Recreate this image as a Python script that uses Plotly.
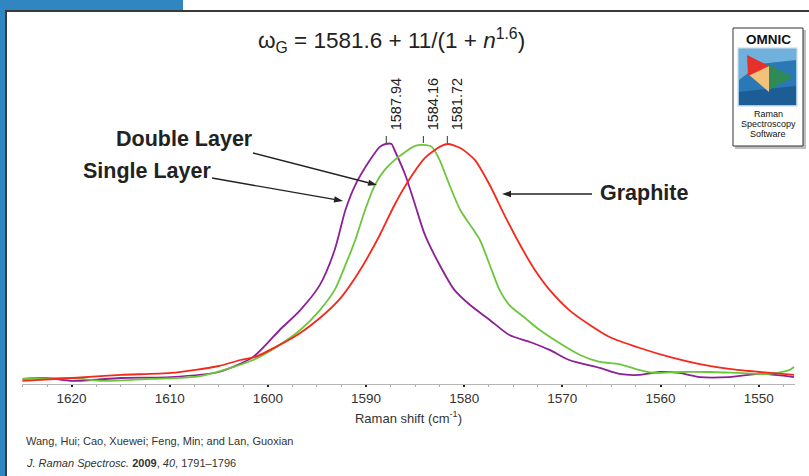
import plotly.graph_objects as go

# ---- data ----
single_wn = [1625, 1622.5, 1619.9, 1615.0, 1609.9, 1605.0, 1601.5, 1598.8, 1596.7, 1594.7,
             1593.2, 1592.1, 1591.1, 1589.6, 1588.6, 1588.0, 1587.4, 1587.1, 1586.0, 1585.0,
             1584.0, 1582.5, 1581.0, 1579.4, 1577.4, 1575.4, 1573.3, 1571.3, 1569.3, 1566.2,
             1564.2, 1562.1, 1560.1, 1558.1, 1556.0, 1553.0, 1549.9, 1546.4]
single_int = [2.1, 2.5, 1.3, 2.5, 2.9, 5.0, 11.3, 22.5, 30.8, 41.3,
              55.8, 72.5, 82.9, 93.3, 98.8, 100.0, 100.0, 97.5, 87.1, 74.6,
              62.1, 49.6, 39.2, 32.9, 26.7, 20.4, 17.5, 14.2, 10.0, 6.7,
              4.2, 3.8, 5.0, 4.6, 2.9, 2.9, 4.2, 2.9]

double_wn = [1625, 1619.9, 1617.1, 1612.0, 1606.9, 1601.5, 1598.8, 1596.7, 1594.7, 1593.2,
             1592.1, 1591.1, 1590.1, 1589.1, 1588.1, 1587.1, 1586.0, 1585.0, 1584.2, 1583.3,
             1582.5, 1581.5, 1580.4, 1579.4, 1578.4, 1577.4, 1576.4, 1575.4, 1573.8, 1572.3,
             1570.3, 1568.2, 1566.2, 1564.2, 1562.1, 1560.6, 1558.1, 1555.0, 1552.0, 1548.9,
             1546.9, 1546.4]
double_int = [2.1, 2.5, 1.3, 2.1, 3.3, 10.0, 16.3, 22.5, 30.8, 39.2,
              49.6, 60.0, 72.5, 82.9, 89.2, 93.3, 96.7, 99.2, 99.6, 98.8,
              93.3, 82.9, 72.5, 66.3, 60.0, 49.6, 39.2, 32.9, 27.5, 22.5,
              17.1, 12.1, 9.2, 8.3, 5.8, 4.6, 5.0, 5.0, 4.6, 4.2,
              5.8, 7.1]

graphite_wn = [1625, 1619.9, 1615.0, 1609.9, 1605.0, 1602.8, 1601.3, 1598.8, 1596.7, 1594.7,
               1592.6, 1590.6, 1588.6, 1587.1, 1585.5, 1584.0, 1582.5, 1581.7, 1580.4, 1578.9,
               1577.4, 1575.9, 1574.3, 1572.8, 1571.3, 1569.3, 1567.2, 1565.2, 1562.1, 1559.1,
               1556.0, 1553.0, 1549.9, 1546.4]
graphite_int = [1.3, 2.5, 3.8, 4.6, 7.5, 10.0, 11.3, 16.3, 21.3, 27.5,
                35.8, 47.5, 62.1, 74.6, 85.8, 94.2, 98.8, 100.0, 98.3, 93.3,
                82.9, 70.4, 57.9, 47.5, 39.2, 30.8, 24.6, 19.6, 15.0, 11.3,
                8.3, 6.3, 5.0, 3.8]

peak_labels = ["1587.94", "1584.16", "1581.72"]
peak_pos = [1587.94, 1584.16, 1581.72]

tick_vals = [1620, 1610, 1600, 1590, 1580, 1570, 1560, 1550]
tick_text = ["1620", "1610", "1600", "1590", "1580", "1570", "1560", "1550"]

W, H = 809, 476
L, R, T, B = 22, 14, 60, 92
PW, PH = W - L - R, H - T - B
YMAX = 135.0

def pxx(x):
    return (x - L) / PW

def pxy(y):
    return (H - B - y) / PH

FONT = "Liberation Sans, Arial, Helvetica, sans-serif"
PURPLE = "#8b2196"
GREEN = "#6cc63c"
RED = "#f5281c"
BLUE = "#2f86c0"

fig = go.Figure()
for wn, it, col, name in [(single_wn, single_int, PURPLE, "Single Layer"),
                          (double_wn, double_int, GREEN, "Double Layer"),
                          (graphite_wn, graphite_int, RED, "Graphite")]:
    fig.add_trace(go.Scatter(x=wn, y=it, mode="lines", name=name,
                             line=dict(color=col, width=1.8, shape="spline", smoothing=0.7),
                             hoverinfo="x+y+name"))

fig.update_layout(
    width=W, height=H,
    margin=dict(l=L, r=R, t=T, b=B),
    paper_bgcolor="white", plot_bgcolor="white",
    showlegend=False,
    font=dict(family=FONT, color="#222"),
    xaxis=dict(range=[1625.05, 1546.3], tickvals=tick_vals, ticktext=tick_text,
               showgrid=False, zeroline=False, showline=True, linecolor="#b5b5b5", linewidth=1,
               ticks="outside", ticklen=2, tickcolor="#222", tickwidth=1.5,
               minor=dict(dtick=2.5, ticks="outside", ticklen=2, tickcolor="#aaa", tickwidth=1),
               tickfont=dict(size=13.5, color="#333"),
               title=dict(text="Raman shift (cm<sup>-1</sup>)", font=dict(size=13, color="#333"), standoff=8)),
    yaxis=dict(range=[0, YMAX], visible=False, showgrid=False, zeroline=False),
)

shapes = []
# blue frame decoration
shapes.append(dict(type="path", xref="paper", yref="paper",
                   path=f"M {pxx(0)},{pxy(476)} L {pxx(5)},{pxy(476)} L {pxx(5)},{pxy(10)} L {pxx(183)},{pxy(10)} L {pxx(183)},{pxy(0)} L {pxx(0)},{pxy(0)} Z",
                   fillcolor=BLUE, line=dict(width=0), layer="above"))
shapes.append(dict(type="path", xref="paper", yref="paper",
                   path=f"M {pxx(6)},{pxy(476)} L {pxx(6)},{pxy(11)} L {pxx(809)},{pxy(11)}",
                   line=dict(color="#3a3a3a", width=2), layer="above"))

# peak tick marks
for p in peak_pos:
    shapes.append(dict(type="line", xref="x", yref="paper", x0=p, x1=p, y0=pxy(143), y1=pxy(136),
                       line=dict(color="#333", width=1)))

def path(pts):
    return "M " + " L ".join(f"{pxx(x)},{pxy(y)}" for x, y in pts) + " Z"

# arrows (line + filled head)
for (tx, ty), (hx, hy) in [((253, 153), (377, 185)), ((212, 178), (343, 201)), ((592, 194), (502, 194))]:
    dx, dy = hx - tx, hy - ty
    n = (dx * dx + dy * dy) ** 0.5
    ux, uy = dx / n, dy / n
    hl, hw = 9.0, 3.2
    bx, by = hx - ux * hl, hy - uy * hl
    shapes.append(dict(type="line", xref="paper", yref="paper", x0=pxx(tx), y0=pxy(ty), x1=pxx(bx), y1=pxy(by),
                       line=dict(color="#222", width=1.3), layer="above"))
    shapes.append(dict(type="path", xref="paper", yref="paper",
                       path=path([(hx, hy), (bx - uy * hw, by + ux * hw), (bx + uy * hw, by - ux * hw)]),
                       fillcolor="#222", line=dict(width=0), layer="above"))

# OMNIC logo
shapes.append(dict(type="rect", xref="paper", yref="paper", x0=pxx(735), x1=pxx(806), y0=pxy(149), y1=pxy(30),
                   fillcolor="#bfbfbf", line=dict(width=0), layer="above"))
shapes.append(dict(type="rect", xref="paper", yref="paper", x0=pxx(733), x1=pxx(803), y0=pxy(146), y1=pxy(28),
                   fillcolor="white", line=dict(color="#333", width=1), layer="above"))
shapes.append(dict(type="rect", xref="paper", yref="paper", x0=pxx(738), x1=pxx(797), y0=pxy(106), y1=pxy(48),
                   fillcolor="#2b78b6", line=dict(color="#cfe3f2", width=1.5), layer="above"))
shapes.append(dict(type="path", xref="paper", yref="paper", path=path([(739, 49), (796, 49), (796, 60), (760, 64), (739, 80)]),
                   fillcolor="#6fb0dd", line=dict(width=0), layer="above"))
shapes.append(dict(type="path", xref="paper", yref="paper", path=path([(739, 92), (796, 86), (796, 105), (739, 105)]),
                   fillcolor="#1d5d95", line=dict(width=0), layer="above"))
shapes.append(dict(type="path", xref="paper", yref="paper", path=path([(768, 64), (793, 77), (769, 90)]),
                   fillcolor="#2e8b57", line=dict(width=0), layer="above"))
shapes.append(dict(type="path", xref="paper", yref="paper", path=path([(748, 74), (769, 66), (769, 92)]),
                   fillcolor="#f2c27a", line=dict(width=0), layer="above"))
shapes.append(dict(type="path", xref="paper", yref="paper", path=path([(747, 55), (769, 66), (748, 76)]),
                   fillcolor="#e8302a", line=dict(width=0), layer="above"))
fig.update_layout(shapes=shapes)

ann = []
# title
ann.append(dict(xref="paper", yref="paper", x=pxx(391), y=pxy(41), xanchor="center", yanchor="middle",
                text="ω<sub>G</sub> = 1581.6 + 11/(1 + <i>n</i><sup>1.6</sup>)", showarrow=False,
                font=dict(size=22.5, color="#222")))
# peak labels
for p, lab in zip(peak_pos, peak_labels):
    ann.append(dict(xref="x", yref="paper", x=p, y=pxy(132), xanchor="center", yanchor="bottom",
                    text=lab, textangle=-90, showarrow=False, xshift=10,
                    font=dict(size=14.5, color="#222")))
# arrow labels
ann.append(dict(xref="paper", yref="paper", x=pxx(184), y=pxy(139), text="<b>Double Layer</b>", showarrow=False,
                xanchor="center", yanchor="middle", font=dict(size=21.5, color="#222")))
ann.append(dict(xref="paper", yref="paper", x=pxx(146.5), y=pxy(171), text="<b>Single Layer</b>", showarrow=False,
                xanchor="center", yanchor="middle", font=dict(size=21.5, color="#222")))
ann.append(dict(xref="paper", yref="paper", x=pxx(644), y=pxy(193), text="<b>Graphite</b>", showarrow=False,
                xanchor="center", yanchor="middle", font=dict(size=21.5, color="#222")))
# logo texts
ann.append(dict(xref="paper", yref="paper", x=pxx(768), y=pxy(40), text="<b>OMNIC</b>", showarrow=False,
                xanchor="center", yanchor="middle", font=dict(size=13.5, color="#111")))
for yy, t in [(114, "Raman"), (124, "Spectroscopy"), (134, "Software")]:
    ann.append(dict(xref="paper", yref="paper", x=pxx(768), y=pxy(yy), text=t, showarrow=False,
                    xanchor="center", yanchor="middle", font=dict(size=9, color="#111")))
# citation
ann.append(dict(xref="paper", yref="paper", x=pxx(24), y=pxy(441), xanchor="left", yanchor="middle",
                text="Wang, Hui; Cao, Xuewei; Feng, Min; and Lan, Guoxian", showarrow=False,
                font=dict(size=11, color="#333")))
ann.append(dict(xref="paper", yref="paper", x=pxx(24), y=pxy(463), xanchor="left", yanchor="middle",
                text="<i>J. Raman Spectrosc.</i> <b>2009</b>, <i>40</i>, 1791–1796", showarrow=False,
                font=dict(size=11, color="#333")))
fig.update_layout(annotations=ann)

fig.write_html("out.html", config={"displayModeBar": False},
               post_script="document.body.style.margin='0';")
